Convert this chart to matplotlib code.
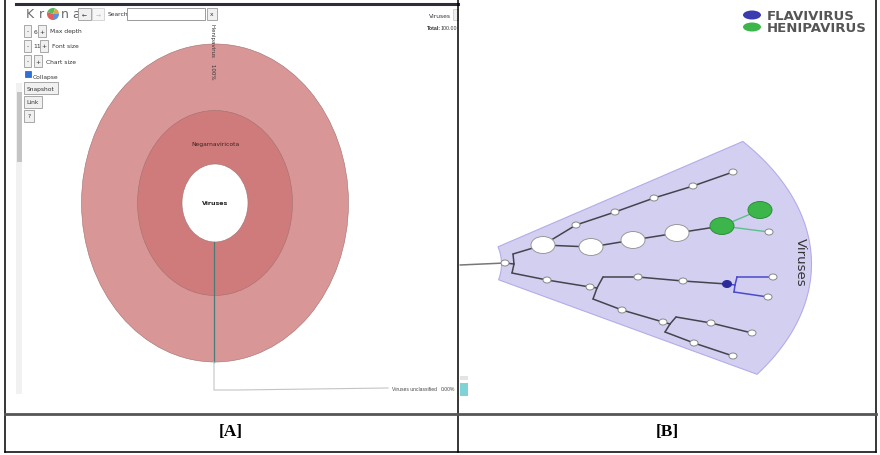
import matplotlib
matplotlib.use("Agg")
import matplotlib.pyplot as plt
from matplotlib.patches import Ellipse, Rectangle, Polygon, Wedge
from matplotlib.transforms import Bbox, TransformedBbox
import numpy as np

# ---- panel A : krona rings (centre, widths, heights in px) ----
ring_names = ["Henipavirus", "Negarnaviricota", "Viruses"]
ring_w = [267, 155, 66]
ring_h = [318, 185, 78]
ring_colors = ["#d99696", "#d07b7b", "#ffffff"]
ring_cx, ring_cy = 215, 204
henipa_pct = "100%"
unclassified_label = "Viruses unclassified"
unclassified_pct = "0.00%"
total_label = "100.00"

# ---- panel B : tree nodes (x, y, kind) ----
node_x = [460, 505, 513, 514, 512, 543, 576, 615, 654, 693, 733, 591, 633, 677, 722,
          760, 769, 547, 590, 603, 597, 593, 638, 683, 727, 737, 735, 734, 773, 768,
          622, 663, 676, 670, 665, 711, 752, 694, 733]
node_y = [266, 264, 255, 265, 274, 246, 226, 213, 199, 187, 173, 248, 241, 234, 227,
          211, 233, 281, 288, 278, 289, 300, 278, 282, 285, 278, 286, 293, 278, 298,
          311, 323, 318, 325, 333, 324, 334, 344, 357]
node_kind = ["j", "s", "j", "j", "j", "b", "s", "s", "s", "s", "s", "b", "b", "b", "g",
             "g", "s", "s", "s", "j", "j", "j", "s", "s", "d", "j", "j", "j", "s", "s",
             "s", "s", "j", "j", "j", "s", "s", "s", "s"]
edges = [(0, 1), (1, 3), (3, 2), (3, 4), (2, 5), (5, 6), (6, 7), (7, 8), (8, 9), (9, 10),
         (5, 11), (11, 12), (12, 13), (13, 14), (4, 17), (17, 18), (18, 20), (20, 19),
         (20, 21), (19, 22), (22, 23), (23, 24), (21, 30), (30, 31), (31, 33), (33, 32),
         (33, 34), (32, 35), (35, 36), (34, 37), (37, 38)]
green_edges = [(14, 15), (14, 16)]
blue_edges = [(24, 26), (26, 25), (26, 27), (25, 28), (27, 29)]
legend_names = ["FLAVIVIRUS", "HENIPAVIRUS"]
legend_colors = ["#3b3bb0", "#3cb54a"]
panel_labels = ["[A]", "[B]"]

fig = plt.figure(figsize=(8.8, 4.56), dpi=100)
ax = fig.add_axes([0, 0, 1, 1])
ax.set_xlim(0, 880)
ax.set_ylim(456, 0)
ax.axis("off")

ui = dict(fontsize=4.3, color="#333333", va="center")
clip_a = TransformedBbox(Bbox([[0, 0], [457, 456]]), ax.transData)
clip_b = TransformedBbox(Bbox([[459, 0], [875, 456]]), ax.transData)


def box(x0, y0, x1, y1, fc="#f0f0f0", ec="#9a9a9a", lw=0.6, z=3):
    ax.add_patch(Rectangle((x0, y0), x1 - x0, y1 - y0, fc=fc, ec=ec, lw=lw, zorder=z))


# krona screenshot frame
ax.plot([16, 458], [5, 5], color="#2e2e38", lw=2.2, zorder=4)
box(16, 84, 22, 395, fc="#f1f1f1", ec="none")
box(17, 93, 22, 163, fc="#c4c4c4", ec="none")

# logo
for ch, x in zip(["K", "r", "n", "a"], [30, 41, 65, 76]):
    ax.text(x, 15, ch, fontsize=9, color="#6a6a6a", ha="center", va="center")
for a0, a1, c in [(0, 90, "#5b8fe0"), (90, 200, "#e35d5d"), (200, 290, "#59b95c"), (290, 360, "#e0a64a")]:
    ax.add_patch(Wedge((53, 15), 6, a0, a1, fc=c, ec="none", zorder=4))
box(78, 9, 91, 21)
box(92, 9, 104, 21, fc="#f6f6f6", ec="#d0d0d0")
ax.text(84.5, 15, "←", ha="center", **ui)
ax.text(98, 15, "→", ha="center", fontsize=4.3, color="#bbbbbb", va="center")
ax.text(108, 15, "Search:", **ui)
box(127, 9, 205, 21, fc="white", ec="#8a8a8a")
box(207, 9, 217, 21)
ax.text(212, 15, "x", ha="center", **ui)

# controls
box(24, 26, 31, 38); ax.text(27.5, 32, "-", ha="center", **ui)
ax.text(34, 32, "6", **ui)
box(38, 26, 46, 38); ax.text(42, 32, "+", ha="center", **ui)
ax.text(50, 32, "Max depth", **ui)
box(24, 41, 31, 53); ax.text(27.5, 47, "-", ha="center", **ui)
ax.text(33.5, 47, "11", **ui)
box(40, 41, 48, 53); ax.text(44, 47, "+", ha="center", **ui)
ax.text(52, 47, "Font size", **ui)
box(24, 56, 31, 68); ax.text(27.5, 62, "-", ha="center", **ui)
box(34, 56, 42, 68); ax.text(38, 62, "+", ha="center", **ui)
ax.text(46, 62, "Chart size", **ui)
box(25, 72, 31, 78, fc="#2f6fd6", ec="#2f6fd6")
ax.text(33, 77, "Collapse", **ui)
box(24, 83, 58, 95); ax.text(41, 89, "Snapshot", ha="center", **ui)
box(24, 97, 42, 109); ax.text(33, 103, "Link", ha="center", **ui)
box(24, 111, 34, 123); ax.text(29, 117, "?", ha="center", **ui)
ax.text(451, 16, "Viruses", ha="right", **ui)
box(453, 10, 458, 21, fc="#eeeeee", ec="#cccccc")
ax.text(427, 29, "Total:", fontsize=3.8, fontweight="bold", color="#333", va="center",
        family="Liberation Sans")
ax.text(441, 29, total_label, fontsize=3.8, color="#333", va="center", family="Liberation Sans",
        clip_on=True, clip_box=clip_a)

# rings
for w, h, c in zip(ring_w, ring_h, ring_colors):
    ax.add_patch(Ellipse((ring_cx, ring_cy), w, h, fc=c, ec="#a07070", lw=0.4, zorder=2))
ax.text(213, 52, ring_names[0] + "    " + henipa_pct, rotation=-90, ha="center", va="center",
        fontsize=4, color="#333333", zorder=5)
ax.text(ring_cx, 145, ring_names[1], ha="center", va="center", fontsize=4.3, color="#3a2020", zorder=5)
ax.text(ring_cx, ring_cy, ring_names[2], ha="center", va="center", fontsize=4.5,
        fontweight="bold", color="#222222", zorder=5)
ax.plot([214, 214], [243, 363], color="#4a7d78", lw=0.9, zorder=5)
ax.plot([214, 214, 237, 388], [363, 391, 391, 389], color="#c4c4c4", lw=0.8, zorder=5)
ax.text(392, 390, unclassified_label, fontsize=3.6, color="#444444", va="center", zorder=5,
        family="Liberation Sans")
ax.text(441, 390, unclassified_pct, fontsize=3.6, color="#444444", va="center", zorder=5,
        family="Liberation Sans", clip_on=True, clip_box=clip_a)

# ---- panel B ----
apex = (457.5, 265)
a_out, b_out, r_in = 354, 207, 44
ts = np.linspace(np.radians(-36.3), np.radians(32.2), 80)
outer = np.c_[apex[0] + a_out * np.cos(ts), apex[1] + b_out * np.sin(ts)]
tin = np.linspace(np.radians(-23), np.radians(21), 20)[::-1]
inner = np.c_[apex[0] + r_in * np.cos(tin), apex[1] + r_in * np.sin(tin)]
ax.add_patch(Polygon(np.vstack([outer, inner]), closed=True, fc="#d3cff1", ec="#b3acea",
                     lw=0.8, zorder=1))
ax.text(800, 262, "Viruses", rotation=-90, ha="center", va="center", fontsize=9.5,
        color="#333333", zorder=5)

for (i, j) in edges:
    col = "#777777" if i == 0 else "#44444c"
    ax.plot([node_x[i], node_x[j]], [node_y[i], node_y[j]], color=col, lw=1.1, zorder=3,
            solid_capstyle="round")
for (i, j) in green_edges:
    ax.plot([node_x[i], node_x[j]], [node_y[i], node_y[j]], color="#5cc08a", lw=1.0, zorder=3)
for (i, j) in blue_edges:
    ax.plot([node_x[i], node_x[j]], [node_y[i], node_y[j]], color="#4a4acc", lw=1.1, zorder=3)

sizes = {"s": (8, 6), "b": (24, 17), "g": (24, 17), "d": (9, 7)}
fills = {"s": "white", "b": "white", "g": "#3cb54a", "d": "#2b2b9a"}
edgec = {"s": "#888888", "b": "#999999", "g": "#2e8f3a", "d": "#2b2b9a"}
for x, y, k in zip(node_x, node_y, node_kind):
    if k == "j":
        continue
    w, h = sizes[k]
    ax.add_patch(Ellipse((x, y), w, h, fc=fills[k], ec=edgec[k], lw=0.7, zorder=4))

# legend
for i, (name, c) in enumerate(zip(legend_names, legend_colors)):
    y = 16 + 12 * i
    ax.add_patch(Ellipse((752, y), 18, 9, fc=c, ec="none", zorder=4))
    ax.text(767, y, name, fontsize=9.5, fontweight="bold", color="#555555", va="center",
            clip_on=True, clip_box=clip_b)

box(460, 377, 468, 381, fc="#e4e4e4", ec="none")
box(460, 384, 468, 397, fc="#7fd3d6", ec="none")

# table lines
for x in [5, 458, 876]:
    ax.plot([x, x], [0, 453], color="black", lw=1.1, zorder=6)
ax.plot([5, 876], [415, 415], color="#555555", lw=2, zorder=6)
ax.plot([5, 876], [453, 453], color="black", lw=1.1, zorder=6)
for x, lab in zip([231, 667], panel_labels):
    ax.text(x, 432, lab, ha="center", va="center", fontsize=12.5, fontweight="bold",
            family="Liberation Serif", color="black")

fig.savefig("out.png", dpi=100)
